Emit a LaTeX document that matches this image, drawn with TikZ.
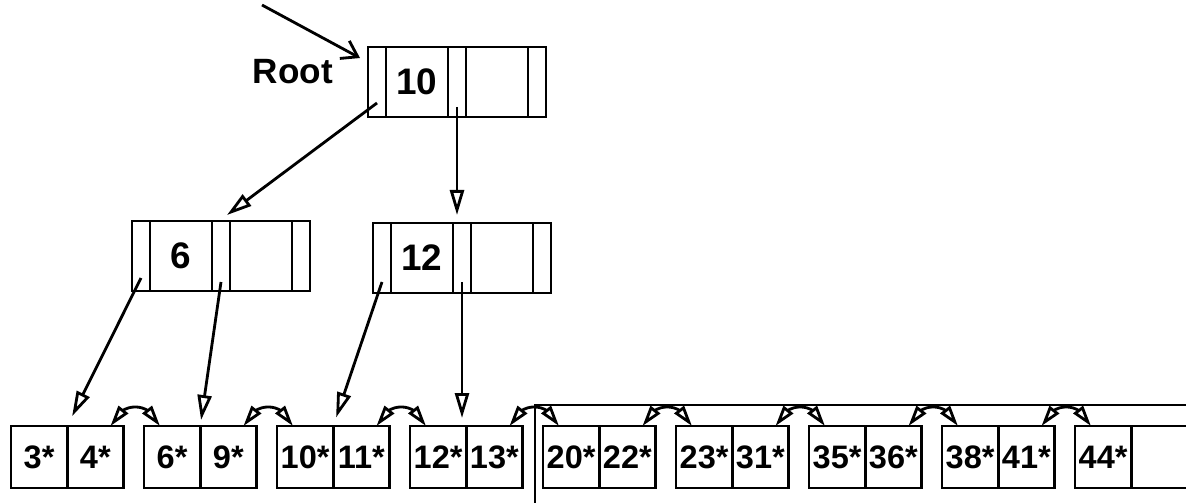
\documentclass[tikz,border=0pt]{standalone}
\usepackage{fontspec}
\setmainfont{Liberation Sans}
\usetikzlibrary{positioning, arrows.meta, bending}

\begin{document}
\begin{tikzpicture}[
    x=0.2mm, y=-0.2mm,
    every node/.style={inner sep=0pt, outer sep=0pt},
    cell/.style={rectangle, draw, line width=1.6pt, minimum height=14mm,
                 font=\fontsize{21}{24}\selectfont\bfseries},
    ptrcell/.style={cell, minimum width=3.6mm},
    keycell/.style={cell, minimum width=12.4mm},
    leafhalf/.style={rectangle, draw, line width=1.6pt, minimum width=11.25mm,
                     minimum height=12.4mm, font=\fontsize{18.5}{22}\selectfont\bfseries},
    ptrarrow/.style={-{Triangle[open, length=5mm, width=2.8mm]}, line width=1.6pt},
    sibarrow/.style={{Triangle[open, length=4.2mm, width=2.4mm]}-{Triangle[open, length=4.2mm, width=2.4mm]},
                     line width=1.6pt, bend left=70, looseness=1.4}
]
  \useasboundingbox (0,0) rectangle (1186,503);

  % root node
  \node[ptrcell] (r0) at (377,82) {};
  \node[keycell, right=0mm of r0] (rk1) {10};
  \node[ptrcell, right=0mm of rk1] (r1) {};
  \node[keycell, right=0mm of r1] (rk2) {};
  \node[ptrcell, right=0mm of rk2] (r2) {};
  \node[left=7mm of r0, yshift=2mm, font=\fontsize{20}{22}\selectfont\bfseries] (rootlbl) {Root};
  \coordinate (rtail) at (262,5);

  % second level
  \node[ptrcell] (a0) at (141,256) {};
  \node[keycell, right=0mm of a0] (ak1) {6};
  \node[ptrcell, right=0mm of ak1] (a1) {};
  \node[keycell, right=0mm of a1] (ak2) {};
  \node[ptrcell, right=0mm of ak2] (a2) {};

  \node[ptrcell] (b0) at (382,258) {};
  \node[keycell, right=0mm of b0] (bk1) {12};
  \node[ptrcell, right=0mm of bk1] (b1) {};
  \node[keycell, right=0mm of b1] (bk2) {};
  \node[ptrcell, right=0mm of bk2] (b2) {};

  % leaves
  \node[leafhalf] (l1a) at (39.1,457) {3*};
  \node[leafhalf, right=0mm of l1a] (l1b) {4*};
  \node[leafhalf, right=4.1mm of l1b] (l2a) {6*};
  \node[leafhalf, right=0mm of l2a] (l2b) {9*};
  \node[leafhalf, right=4.1mm of l2b] (l3a) {10*};
  \node[leafhalf, right=0mm of l3a] (l3b) {11*};
  \node[leafhalf, right=4.1mm of l3b] (l4a) {12*};
  \node[leafhalf, right=0mm of l4a] (l4b) {13*};
  \node[leafhalf, right=4.1mm of l4b] (l5a) {20*};
  \node[leafhalf, right=0mm of l5a] (l5b) {22*};
  \node[leafhalf, right=4.1mm of l5b] (l6a) {23*};
  \node[leafhalf, right=0mm of l6a] (l6b) {31*};
  \node[leafhalf, right=4.1mm of l6b] (l7a) {35*};
  \node[leafhalf, right=0mm of l7a] (l7b) {36*};
  \node[leafhalf, right=4.1mm of l7b] (l8a) {38*};
  \node[leafhalf, right=0mm of l8a] (l8b) {41*};
  \node[leafhalf, right=4.1mm of l8b] (l9a) {44*};
  \node[leafhalf, right=0mm of l9a] (l9b) {};

  % pointers
  \draw[-{Straight Barb[length=3mm, width=4mm]}, line width=1.6pt]
    (rtail) -- ([xshift=-1.6mm, yshift=-2.2mm]r0.north west);
  \draw[ptrarrow] ([yshift=-4.2mm]r0.center) -- ([xshift=1.2mm, yshift=1.2mm]a1.north);
  \draw[ptrarrow, shorten >=1.6mm] ([yshift=-5mm]r1.center) -- (r1 |- bk1.north);
  \draw[ptrarrow, shorten >=2.2mm] ([yshift=-4.4mm]a0.center) -- (l1a.north east);
  \draw[ptrarrow, shorten >=1.2mm] ([yshift=-5.2mm]a1.center) -- (l2a.north east);
  \draw[ptrarrow, shorten >=1.8mm] ([yshift=-4.8mm]b0.center) -- (l3a.north east);
  \draw[ptrarrow, shorten >=1.6mm] ([yshift=-4.8mm]b1.center) -- (b1 |- l4a.north);

  % sibling links
  \draw[sibarrow] ([xshift=-2.6mm]l1b.north east) to ([xshift=3.2mm]l2a.north west);
  \draw[sibarrow] ([xshift=-2.6mm]l2b.north east) to ([xshift=3.2mm]l3a.north west);
  \draw[sibarrow] ([xshift=-2.6mm]l3b.north east) to ([xshift=3.2mm]l4a.north west);
  \draw[sibarrow] ([xshift=-2.6mm]l4b.north east) to ([xshift=3.2mm]l5a.north west);
  \draw[sibarrow] ([xshift=-2.6mm]l5b.north east) to ([xshift=3.2mm]l6a.north west);
  \draw[sibarrow] ([xshift=-2.6mm]l6b.north east) to ([xshift=3.2mm]l7a.north west);
  \draw[sibarrow] ([xshift=-2.6mm]l7b.north east) to ([xshift=3.2mm]l8a.north west);
  \draw[sibarrow] ([xshift=-2.6mm]l8b.north east) to ([xshift=3.2mm]l9a.north west);

  % corner of the new leaf area
  \draw[line width=1.6pt] (535,510) |- (1190,405);
\end{tikzpicture}
\end{document}
